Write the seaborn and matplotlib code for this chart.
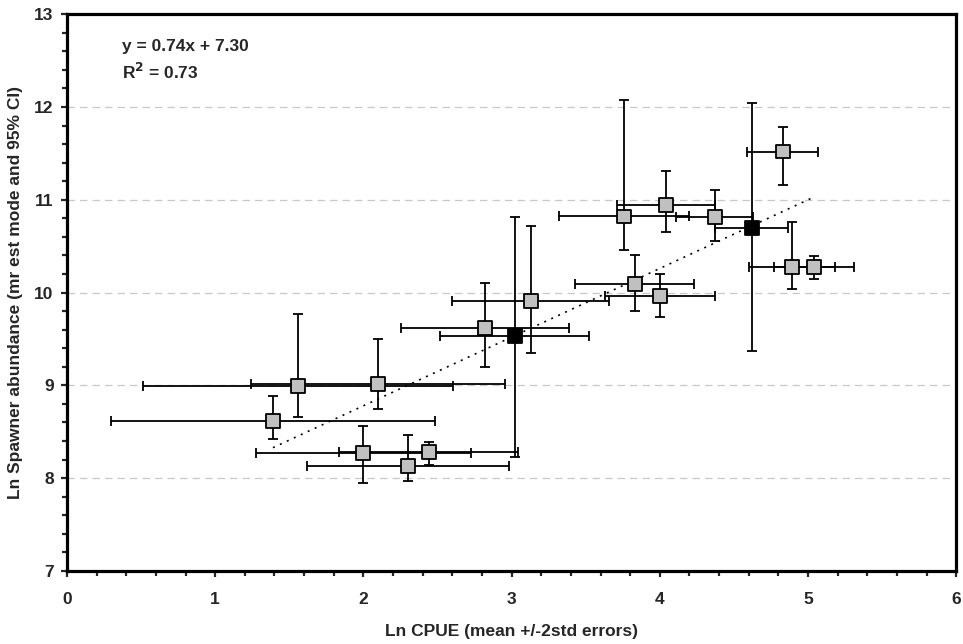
import numpy as np
import pandas as pd
import matplotlib
matplotlib.use("Agg")
import matplotlib.pyplot as plt
from matplotlib.ticker import MultipleLocator
import seaborn as sns

# ------------------------------------------------------------
# Data
# ------------------------------------------------------------
ln_cpue = [1.39, 1.56, 2.10, 2.00, 2.44, 2.30, 3.02, 2.82, 3.13,
           3.83, 4.00, 3.76, 4.37, 4.04, 4.62, 4.83, 4.89, 5.04]
ln_spawn = [8.62, 8.99, 9.01, 8.27, 8.28, 8.13, 9.53, 9.62, 9.91,
            10.09, 9.96, 10.82, 10.81, 10.94, 10.70, 11.52, 10.28, 10.28]
cpue_err = [1.095, 1.045, 0.855, 0.725, 0.605, 0.68, 0.505, 0.565, 0.53,
            0.40, 0.37, 0.44, 0.26, 0.33, 0.245, 0.24, 0.29, 0.27]
spawn_lo = [8.42, 8.66, 8.74, 7.95, 8.14, 7.97, 8.23, 9.20, 9.35,
            9.80, 9.74, 10.46, 10.56, 10.65, 9.37, 11.16, 10.04, 10.15]
spawn_hi = [8.89, 9.77, 9.50, 8.56, 8.39, 8.47, 10.81, 10.10, 10.72,
            10.40, 10.20, 12.07, 11.10, 11.31, 12.04, 11.78, 10.76, 10.39]
serie = ["grey"] * 6 + ["black"] + ["grey"] * 7 + ["black"] + ["grey"] * 3

slope, intercept, r2 = 0.74, 7.30, 0.73

df = pd.DataFrame({"x": ln_cpue, "y": ln_spawn, "xe": cpue_err,
                   "lo": spawn_lo, "hi": spawn_hi, "serie": serie})

# ------------------------------------------------------------
# Figure
# ------------------------------------------------------------
sns.set_style("white")
plt.rcParams["font.family"] = "Liberation Sans"
plt.rcParams["font.weight"] = "bold"
plt.rcParams["axes.labelweight"] = "bold"
plt.rcParams["mathtext.default"] = "bf"

FS = 12.5

fig = plt.figure(figsize=(9.63, 6.44), dpi=100)
ax = fig.add_axes([0.0695, 0.1134, 0.9235, 0.8646])

# grid lines
for yv in range(8, 13):
    ax.axhline(yv, color="#c8c8c8", lw=0.9, dashes=(6, 4), zorder=0)

# error bars
ax.errorbar(df["x"], df["y"], xerr=df["xe"],
            yerr=[df["y"] - df["lo"], df["hi"] - df["y"]],
            fmt="none", ecolor="black", elinewidth=1.3,
            capsize=3.5, capthick=1.3, zorder=2)

# regression line
xs = np.array([df["x"].min(), df["x"].max()])
sns.lineplot(x=xs, y=slope * xs + intercept, color="black", lw=1.2,
             linestyle=(0, (1.2, 3.4)), ax=ax, zorder=3)

# markers
sns.scatterplot(data=df, x="x", y="y", hue="serie",
                palette={"grey": "#c0c0c0", "black": "black"},
                marker="s", s=100, edgecolor="black", linewidth=1.3,
                legend=False, ax=ax, zorder=4)

ax.text(0.37, 12.65, f"y = {slope:.2f}x + {intercept:.2f}",
        fontsize=FS, fontweight="bold", va="center")
ax.text(0.37, 12.38, f"R$^{{2}}$ = {r2:.2f}",
        fontsize=FS, fontweight="bold", va="center")

ax.set_xlim(0, 6)
ax.set_ylim(7, 13)
ax.xaxis.set_major_locator(MultipleLocator(1))
ax.xaxis.set_minor_locator(MultipleLocator(0.2))
ax.yaxis.set_major_locator(MultipleLocator(1))
ax.yaxis.set_minor_locator(MultipleLocator(0.2))

ax.tick_params(which="major", direction="out", length=4.5, width=1.6,
               labelsize=FS, bottom=True, left=True)
ax.tick_params(axis="x", which="major", pad=11)
ax.tick_params(axis="y", which="major", pad=5)
ax.tick_params(which="minor", direction="out", length=3.5, width=1.6,
               bottom=True, left=True)

for sp in ax.spines.values():
    sp.set_visible(True)
    sp.set_color("black")
    sp.set_linewidth(2.3)

ax.set_xlabel("Ln CPUE (mean +/-2std errors)", fontsize=FS,
              fontweight="bold", labelpad=12)
ax.set_ylabel("Ln Spawner abundance (mr est mode and 95% CI)", fontsize=FS,
              fontweight="bold", labelpad=8)

fig.savefig("out.png", dpi=100)
